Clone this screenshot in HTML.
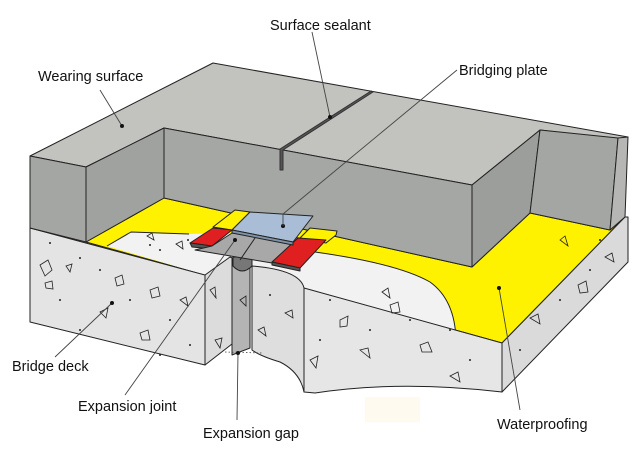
<!DOCTYPE html>
<html><head><meta charset="utf-8"><style>
html,body{margin:0;padding:0;background:#fff;}
svg{display:block;}
text{font-family:"Liberation Sans",sans-serif;font-size:14.5px;fill:#111;}
</style></head><body>
<svg width="640" height="457" viewBox="0 0 640 457" xmlns="http://www.w3.org/2000/svg">
<rect x="365" y="397" width="55" height="25" fill="#fffaf0"/>
<g stroke="#222" stroke-width="1" stroke-linejoin="round">
<polygon points="86,242 164,198 472,267 530,213 610,230 625,217 502,343 304,288 252,266 205,275" fill="#fff200"/>
<path d="M107,246 L131,232 L189,234 L230,233 L300,250 Q395,262 430,282 Q455,300 456,340 L304,288 L252,266 L205,275 Z" fill="#f2f2f2" stroke="none"/>
<path d="M107,246 L131,232 L189,234 M300,250 Q395,262 430,282 Q455,300 456,340" fill="none"/>
<polygon points="30,228 205,275 205,365 30,322" fill="#e4e4e4"/>
<polygon points="205,275 230,257 250,266 250,330 205,365" fill="#dcdcdc"/>
<polygon points="232,258 250,264 250,348 232,355" fill="#b4b4b4"/>
<path d="M252,266 Q300,270 304,288 L304,392 Q300,372 280,362 Q260,356 252,350 Z" fill="#dedede"/>
<path d="M304,288 L502,343 L502,392 Q400,380 315,393 L304,392 Z" fill="#e6e6e6"/>
<polygon points="502,343 625,217 628,217 628,262 502,392" fill="#dadada"/>
<polygon points="30,156 213,63 628,137 625,140 540,130 472,185 164,128 86,167" fill="#c2c3bf"/>
<polygon points="30,156 86,167 86,242 30,228" fill="#a4a6a3"/>
<polygon points="86,167 164,128 164,198 86,242" fill="#a0a2a0"/>
<polygon points="164,128 472,185 472,267 164,198" fill="#a5a7a4"/>
<polygon points="472,185 540,130 530,213 472,267" fill="#9c9e9b"/>
<polygon points="540,130 618,138 610,230 530,213" fill="#a4a6a3"/>
<polygon points="618,138 628,137 625,217 610,230" fill="#b6b7b4"/>
<polygon points="371,91 373,92 283,150 283,170 280,170 280,149" fill="#555" stroke="#333"/>
<!-- plate assembly -->
<polygon points="213,227 235,210 250,212 232,230" fill="#fff200"/>
<polygon points="310,228 337,231 336,235 326,243 300,238" fill="#fff200"/>
<path d="M233,257 L233,266 Q242,276 252,266 L252,257 Z" fill="#777"/>
<polygon points="190,243 213,228 232,230 212,246" fill="#e02020"/>
<polygon points="190,243 212,246 212,249 192,247" fill="#555"/>
<polygon points="195,250 212,246 232,233 300,238 272,263" fill="#a8a8a8"/>
<line x1="255" y1="238" x2="240" y2="260"/>
<polygon points="272,262 298,238 326,240 300,268" fill="#e02020"/>
<polygon points="272,262 300,268 300,271 272,265" fill="#555"/>
<polygon points="232,230 250,212 313,216 293,242" fill="#a9bed6"/>
<polygon points="232,230 293,242 293,245 232,233" fill="#7f93a8"/>
</g>
<g fill="none" stroke="#222" stroke-width="0.8">
<polygon points="40,265 48,260 52,270 45,276"/><polygon points="66,266 72,264 70,272"/>
<polygon points="45,283 52,281 53,289 46,288"/><polygon points="115,278 122,275 124,284 117,286"/>
<polygon points="150,290 158,287 160,296 152,298"/><polygon points="100,312 108,308 106,318"/>
<polygon points="180,300 186,297 188,306"/><polygon points="140,333 148,330 150,340 142,340"/>
<polygon points="210,290 215,287 216,298"/><polygon points="215,340 222,338 220,348"/>
<polygon points="285,313 292,310 293,318"/><polygon points="340,320 348,316 347,326 340,327"/>
<polygon points="390,305 398,302 400,312 392,313"/><polygon points="420,345 428,342 432,352 422,352"/>
<polygon points="360,350 368,348 370,358"/><polygon points="310,360 318,356 316,368"/>
<polygon points="530,318 538,314 540,324"/><polygon points="578,285 586,281 588,292 580,293"/>
<polygon points="560,240 565,236 568,246"/><polygon points="605,257 612,253 614,262"/>
<polygon points="450,376 458,372 460,382"/><polygon points="382,292 388,288 390,298"/>
<polygon points="258,330 264,327 266,336"/><polygon points="240,300 246,296 246,306"/>
<polygon points="147,236 152,233 154,240"/><polygon points="176,244 182,241 183,249"/>
</g>
<g fill="#222">
<circle cx="50" cy="243" r="1"/><circle cx="80" cy="258" r="1"/><circle cx="100" cy="270" r="1"/>
<circle cx="60" cy="300" r="1"/><circle cx="130" cy="300" r="1"/><circle cx="170" cy="320" r="1"/>
<circle cx="190" cy="345" r="1"/><circle cx="80" cy="330" r="1"/><circle cx="160" cy="355" r="1"/>
<circle cx="330" cy="300" r="1"/><circle cx="370" cy="330" r="1"/><circle cx="410" cy="320" r="1"/>
<circle cx="450" cy="330" r="1"/><circle cx="470" cy="360" r="1"/><circle cx="320" cy="340" r="1"/>
<circle cx="560" cy="300" r="1"/><circle cx="590" cy="270" r="1"/><circle cx="520" cy="350" r="1"/>
<circle cx="600" cy="240" r="1"/><circle cx="270" cy="295" r="1"/><circle cx="150" cy="245" r="1"/>
<circle cx="188" cy="240" r="1"/><circle cx="160" cy="250" r="1"/>
</g>
<path d="M225,352 L262,353" stroke="#444" stroke-width="0.8" stroke-dasharray="1.5,2" fill="none"/>
<g stroke="#444" stroke-width="0.9" fill="none">
<line x1="100" y1="90" x2="122" y2="126"/>
<line x1="312" y1="32" x2="330" y2="117"/>
<line x1="457" y1="70" x2="283" y2="214"/>
<line x1="55" y1="357" x2="112" y2="303"/>
<line x1="125" y1="395" x2="235" y2="240"/>
<line x1="237" y1="420" x2="238" y2="353"/>
<line x1="520" y1="410" x2="499" y2="288"/>
</g>
<g fill="#111">
<circle cx="122" cy="126" r="2"/><circle cx="330" cy="117" r="2"/><circle cx="283" cy="226" r="2"/>
<circle cx="112" cy="303" r="2"/><circle cx="235" cy="240" r="2"/><circle cx="238" cy="353" r="2"/>
<circle cx="499" cy="288" r="2"/>
</g>
<line x1="283" y1="214" x2="283" y2="226" stroke="#444" stroke-width="0.9"/>
<text x="270" y="30">Surface sealant</text>
<text x="459" y="75">Bridging plate</text>
<text x="38" y="81">Wearing surface</text>
<text x="12" y="371">Bridge deck</text>
<text x="78" y="411">Expansion joint</text>
<text x="203" y="438">Expansion gap</text>
<text x="497" y="429">Waterproofing</text>
</svg>
</body></html>
